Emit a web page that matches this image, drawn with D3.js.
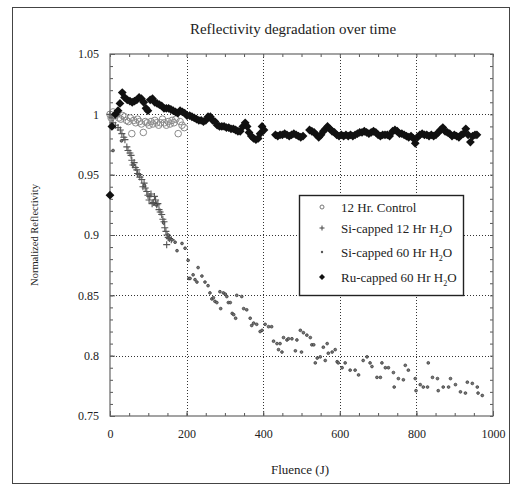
<!DOCTYPE html>
<html>
<head>
<meta charset="utf-8">
<script src="https://cdn.jsdelivr.net/npm/d3@7/dist/d3.min.js"></script>
<style>
  body { margin: 0; background: #fff; }
  text { font-family: "Liberation Serif", "Times New Roman", serif; fill: #222; }
</style>
</head>
<body>
<svg id="canvas" width="513" height="485"></svg>
<script>
// ---- data ----
const xTicks = [0, 200, 400, 600, 800, 1000];
const yTicks = [0.75, 0.8, 0.85, 0.9, 0.95, 1, 1.05];
const seriesNames = ['12 Hr. Control', 'Si-capped 12 Hr H2O', 'Si-capped 60 Hr H2O', 'Ru-capped 60 Hr H2O'];

const control12 = [
  [0, 1.000], [3, 0.997], [8, 1.002], [13, 0.999], [18, 1.001], [23, 0.997], [28, 0.996],
  [33, 0.999], [38, 0.998], [43, 0.995], [48, 0.994], [53, 0.997], [57, 0.984], [62, 0.995],
  [67, 0.993], [72, 0.996], [77, 0.994], [82, 0.992], [87, 0.985], [92, 0.994], [97, 0.993],
  [102, 0.991], [107, 0.994], [112, 0.992], [117, 0.995], [122, 0.993], [127, 0.991],
  [132, 0.993], [137, 0.996], [142, 0.993], [147, 0.991], [152, 0.994], [157, 0.992],
  [162, 0.995], [167, 0.993], [172, 0.996], [178, 0.984], [183, 0.994], [188, 0.991], [194, 0.989]
];

const si12 = [
  [0, 1.000], [5, 0.997], [8, 0.993], [14, 0.991], [21, 0.989], [27, 0.987], [31, 0.984],
  [36, 0.981], [39, 0.979], [44, 0.973], [47, 0.970], [52, 0.968], [55, 0.966], [57, 0.962],
  [60, 0.958], [63, 0.960], [66, 0.956], [70, 0.954], [72, 0.951], [76, 0.950], [78, 0.948],
  [83, 0.946], [86, 0.940], [89, 0.943], [92, 0.939], [96, 0.936], [99, 0.933], [102, 0.929],
  [104, 0.932], [107, 0.934], [110, 0.926], [113, 0.927], [116, 0.932], [119, 0.929],
  [122, 0.925], [125, 0.926], [128, 0.921], [131, 0.919], [135, 0.917], [138, 0.913],
  [141, 0.911], [143, 0.906], [146, 0.903], [148, 0.892], [149, 0.900], [152, 0.898],
  [155, 0.897], [160, 0.896]
];

const si60 = [
  [8, 0.970], [30, 0.978], [60, 0.958], [90, 0.941], [120, 0.925], [140, 0.910],
  [152, 0.900], [162, 0.896], [170, 0.894], [175, 0.887], [188, 0.893], [196, 0.889],
  [204, 0.879], [206, 0.864], [209, 0.864], [217, 0.867], [222, 0.863], [227, 0.861],
  [230, 0.873], [240, 0.866], [248, 0.861], [256, 0.858], [261, 0.852], [266, 0.847],
  [270, 0.848], [274, 0.845], [279, 0.844], [287, 0.853], [289, 0.839], [296, 0.852],
  [301, 0.851], [305, 0.849], [309, 0.844], [314, 0.844], [319, 0.835], [323, 0.834],
  [328, 0.831], [331, 0.850], [344, 0.849], [349, 0.839], [357, 0.838], [366, 0.831],
  [370, 0.825], [375, 0.827], [383, 0.826], [392, 0.820], [397, 0.821], [405, 0.826],
  [414, 0.824], [422, 0.824], [427, 0.812], [436, 0.810], [440, 0.805], [444, 0.810],
  [449, 0.803], [453, 0.815], [462, 0.813], [466, 0.814], [475, 0.814], [484, 0.804],
  [488, 0.813], [497, 0.821], [500, 0.803], [505, 0.819], [514, 0.817], [523, 0.815],
  [527, 0.809], [532, 0.809], [536, 0.794], [541, 0.798], [549, 0.799], [557, 0.807],
  [562, 0.796], [567, 0.810], [570, 0.802], [580, 0.803], [588, 0.805], [593, 0.795],
  [596, 0.794], [606, 0.790], [614, 0.794], [627, 0.788], [640, 0.788], [649, 0.784],
  [661, 0.796], [671, 0.799], [679, 0.794], [684, 0.791], [697, 0.782], [706, 0.782],
  [710, 0.794], [719, 0.790], [727, 0.790], [740, 0.786], [742, 0.774], [753, 0.781],
  [766, 0.780], [771, 0.792], [779, 0.788], [797, 0.781], [799, 0.771], [810, 0.776],
  [818, 0.774], [829, 0.774], [831, 0.794], [842, 0.782], [855, 0.781], [857, 0.771],
  [870, 0.774], [884, 0.774], [889, 0.781], [902, 0.776], [915, 0.770], [928, 0.769],
  [933, 0.778], [946, 0.777], [959, 0.774], [961, 0.769], [972, 0.767]
];

const ru60 = [
  [0, 0.933], [5, 0.990], [14, 1.000], [21, 1.003], [26, 1.009], [32, 1.018], [38, 1.014],
  [45, 1.012], [52, 1.011], [58, 1.010], [64, 1.011], [70, 1.012], [76, 1.014], [82, 1.013],
  [88, 1.010], [94, 1.005], [99, 1.003], [105, 1.012], [111, 1.013], [117, 1.010],
  [123, 1.009], [129, 1.008], [135, 1.007], [141, 1.005], [147, 1.005], [153, 1.005],
  [159, 1.004], [165, 1.003], [171, 1.002], [177, 1.001], [183, 1.003], [189, 1.002],
  [195, 1.001], [201, 0.999], [208, 0.999], [214, 0.998], [220, 0.997], [226, 0.996],
  [232, 0.995], [238, 0.995], [244, 0.994], [250, 0.995], [256, 0.998], [262, 0.998],
  [268, 0.995], [274, 0.994], [280, 0.991], [286, 0.990], [292, 0.990], [298, 0.990],
  [304, 0.989], [310, 0.989], [316, 0.988], [322, 0.988], [328, 0.987], [334, 0.986],
  [340, 0.986], [347, 0.990], [353, 0.993], [358, 0.990], [363, 0.985], [369, 0.982],
  [375, 0.980], [381, 0.979], [387, 0.980], [392, 0.984], [397, 0.990], [402, 0.987],
  [432, 0.983], [438, 0.982], [444, 0.983], [450, 0.983], [456, 0.984], [462, 0.983],
  [468, 0.982], [474, 0.983], [480, 0.984], [486, 0.983], [492, 0.982], [498, 0.981],
  [504, 0.982], [521, 0.987], [527, 0.986], [533, 0.985], [539, 0.983], [545, 0.981],
  [551, 0.983], [557, 0.986], [563, 0.988], [568, 0.990], [574, 0.988], [580, 0.986],
  [586, 0.985], [592, 0.983], [598, 0.982], [604, 0.983], [610, 0.982], [616, 0.983],
  [622, 0.982], [628, 0.983], [634, 0.982], [640, 0.983], [646, 0.984], [652, 0.985],
  [658, 0.985], [664, 0.986], [670, 0.985], [676, 0.984], [682, 0.985], [688, 0.986],
  [694, 0.985], [700, 0.983], [706, 0.982], [712, 0.983], [718, 0.983], [724, 0.983],
  [730, 0.982], [738, 0.986], [744, 0.987], [750, 0.986], [756, 0.984], [762, 0.984],
  [768, 0.983], [774, 0.982], [780, 0.981], [786, 0.982], [792, 0.980], [797, 0.976],
  [803, 0.981], [809, 0.983], [815, 0.984], [821, 0.983], [827, 0.983], [833, 0.982],
  [839, 0.983], [845, 0.982], [851, 0.983], [857, 0.985], [863, 0.987], [869, 0.989],
  [875, 0.986], [881, 0.985], [887, 0.984], [893, 0.982], [899, 0.983], [905, 0.982],
  [911, 0.981], [917, 0.983], [923, 0.984], [929, 0.988], [935, 0.983], [941, 0.977],
  [947, 0.982], [953, 0.983], [958, 0.983]
];

// ---- layout ----
const plotLeft = 110, plotRight = 493, plotTop = 54, plotBottom = 416;

const svg = d3.select('#canvas');

const x = d3.scaleLinear().domain([0, 1000]).range([plotLeft, plotRight]);
const y = d3.scaleLinear().domain([0.75, 1.05]).range([plotBottom, plotTop]);

// outer frame
svg.append('rect')
  .attr('x', 12.5).attr('y', 7.5)
  .attr('width', 497).attr('height', 476)
  .attr('fill', 'none').attr('stroke', '#444').attr('stroke-width', 1);

// dotted grid
const grid = svg.append('g').attr('stroke', '#333').attr('stroke-dasharray', '1,2');
grid.selectAll('line.vx')
  .data(xTicks.slice(1, -1))
  .join('line')
  .attr('x1', d => Math.round(x(d)) + 0.5).attr('x2', d => Math.round(x(d)) + 0.5)
  .attr('y1', plotTop).attr('y2', plotBottom);
grid.selectAll('line.hy')
  .data(yTicks.slice(1, -1))
  .join('line')
  .attr('y1', d => Math.round(y(d)) + 0.5).attr('y2', d => Math.round(y(d)) + 0.5)
  .attr('x1', plotLeft).attr('x2', plotRight);

// axes: major ticks inward with labels, minor ticks inward
const minorX = d3.range(0, 1001, 50);
const minorY = d3.range(75, 106, 1).map(v => v / 100);

function tickStyle (g) {
  g.select('.domain').remove();
  g.selectAll('line').attr('stroke', '#555');
}
function labelStyle (g) {
  g.selectAll('text').attr('font-size', 12).attr('fill', '#222')
    .attr('font-family', '"Liberation Serif", serif');
}

svg.append('g')
  .attr('transform', 'translate(0,' + plotBottom + ')')
  .call(d3.axisBottom(x).tickValues(minorX).tickSize(-3).tickFormat(''))
  .call(tickStyle);
svg.append('g')
  .attr('transform', 'translate(0,' + plotBottom + ')')
  .call(d3.axisBottom(x).tickValues(xTicks).tickSize(-5).tickPadding(13).tickFormat(d3.format('d')))
  .call(tickStyle)
  .call(labelStyle);
svg.append('g')
  .attr('transform', 'translate(0,' + plotTop + ')')
  .call(d3.axisTop(x).tickValues(minorX).tickSize(-3).tickFormat(''))
  .call(tickStyle);
svg.append('g')
  .attr('transform', 'translate(' + plotLeft + ',0)')
  .call(d3.axisLeft(y).tickValues(minorY).tickSize(-3).tickFormat(''))
  .call(tickStyle);
svg.append('g')
  .attr('transform', 'translate(' + plotLeft + ',0)')
  .call(d3.axisLeft(y).tickValues(yTicks).tickSize(-5).tickPadding(11).tickFormat(d => String(+d.toFixed(2))))
  .call(tickStyle)
  .call(labelStyle);
svg.append('g')
  .attr('transform', 'translate(' + plotRight + ',0)')
  .call(d3.axisRight(y).tickValues(minorY).tickSize(-3).tickFormat(''))
  .call(tickStyle);

// plot frame
svg.append('rect')
  .attr('x', plotLeft).attr('y', plotTop)
  .attr('width', plotRight - plotLeft).attr('height', plotBottom - plotTop)
  .attr('fill', 'none').attr('stroke', '#666').attr('stroke-width', 1.2);

// ---- markers ----
const diamondPath = 'M0,-4.4L4.4,0L0,4.4L-4.4,0Z';
const plusPath = 'M-3.5,0H3.5M0,-3.5V3.5';

svg.append('g').selectAll('circle')
  .data(control12)
  .join('circle')
  .attr('cx', d => x(d[0])).attr('cy', d => y(d[1]))
  .attr('r', 3.3)
  .attr('fill', 'none').attr('stroke', '#8a8a8a').attr('stroke-width', 1);

svg.append('g').selectAll('path')
  .data(si12)
  .join('path')
  .attr('d', plusPath)
  .attr('transform', d => 'translate(' + x(d[0]) + ',' + y(d[1]) + ')')
  .attr('stroke', '#555').attr('stroke-width', 1.1).attr('fill', 'none');

svg.append('g').selectAll('circle')
  .data(si60)
  .join('circle')
  .attr('cx', d => x(d[0])).attr('cy', d => y(d[1]))
  .attr('r', 1.4)
  .attr('fill', '#777').attr('stroke', '#333').attr('stroke-width', 0.7);

svg.append('g').selectAll('path')
  .data(ru60)
  .join('path')
  .attr('d', diamondPath)
  .attr('transform', d => 'translate(' + x(d[0]) + ',' + y(d[1]) + ')')
  .attr('fill', '#111');

// ---- titles ----
svg.append('text')
  .attr('x', 293).attr('y', 34)
  .attr('text-anchor', 'middle').attr('font-size', 15)
  .text('Reflectivity degradation over time');
svg.append('text')
  .attr('x', 300).attr('y', 474)
  .attr('text-anchor', 'middle').attr('font-size', 13)
  .text('Fluence (J)');
svg.append('text')
  .attr('transform', 'translate(38,235) rotate(-90)')
  .attr('text-anchor', 'middle').attr('font-size', 10.5)
  .text('Normalized Reflectivity');

// ---- legend ----
const legend = svg.append('g');
legend.append('rect')
  .attr('x', 299.5).attr('y', 195.5)
  .attr('width', 164).attr('height', 100)
  .attr('fill', '#fff').attr('stroke', '#222').attr('stroke-width', 1.4);

const legendY = [207, 228, 252, 277];
const rows = legend.selectAll('g.row')
  .data(seriesNames)
  .join('g')
  .attr('transform', (d, i) => 'translate(0,' + legendY[i] + ')');

rows.each(function (d, i) {
  const g = d3.select(this);
  if (i === 0) {
    g.append('circle').attr('cx', 322).attr('cy', 0).attr('r', 2)
      .attr('fill', 'none').attr('stroke', '#777');
  } else if (i === 1) {
    g.append('path').attr('d', 'M-2.5,0H2.5M0,-2.5V2.5')
      .attr('transform', 'translate(322,0)').attr('stroke', '#444').attr('fill', 'none');
  } else if (i === 2) {
    g.append('circle').attr('cx', 322).attr('cy', 0).attr('r', 1.2).attr('fill', '#555');
  } else {
    g.append('path').attr('d', 'M0,-3L3,0L0,3L-3,0Z')
      .attr('transform', 'translate(322,0)').attr('fill', '#111');
  }
  const t = g.append('text').attr('x', 341).attr('y', 4.5).attr('font-size', 13);
  if (d.endsWith('H2O')) {
    t.append('tspan').text(d.slice(0, -3) + 'H');
    t.append('tspan').attr('font-size', 8).attr('dy', 4).text('2');
    t.append('tspan').attr('dy', -4).text('O');
  } else {
    t.text(d);
  }
});
</script>
</body>
</html>
